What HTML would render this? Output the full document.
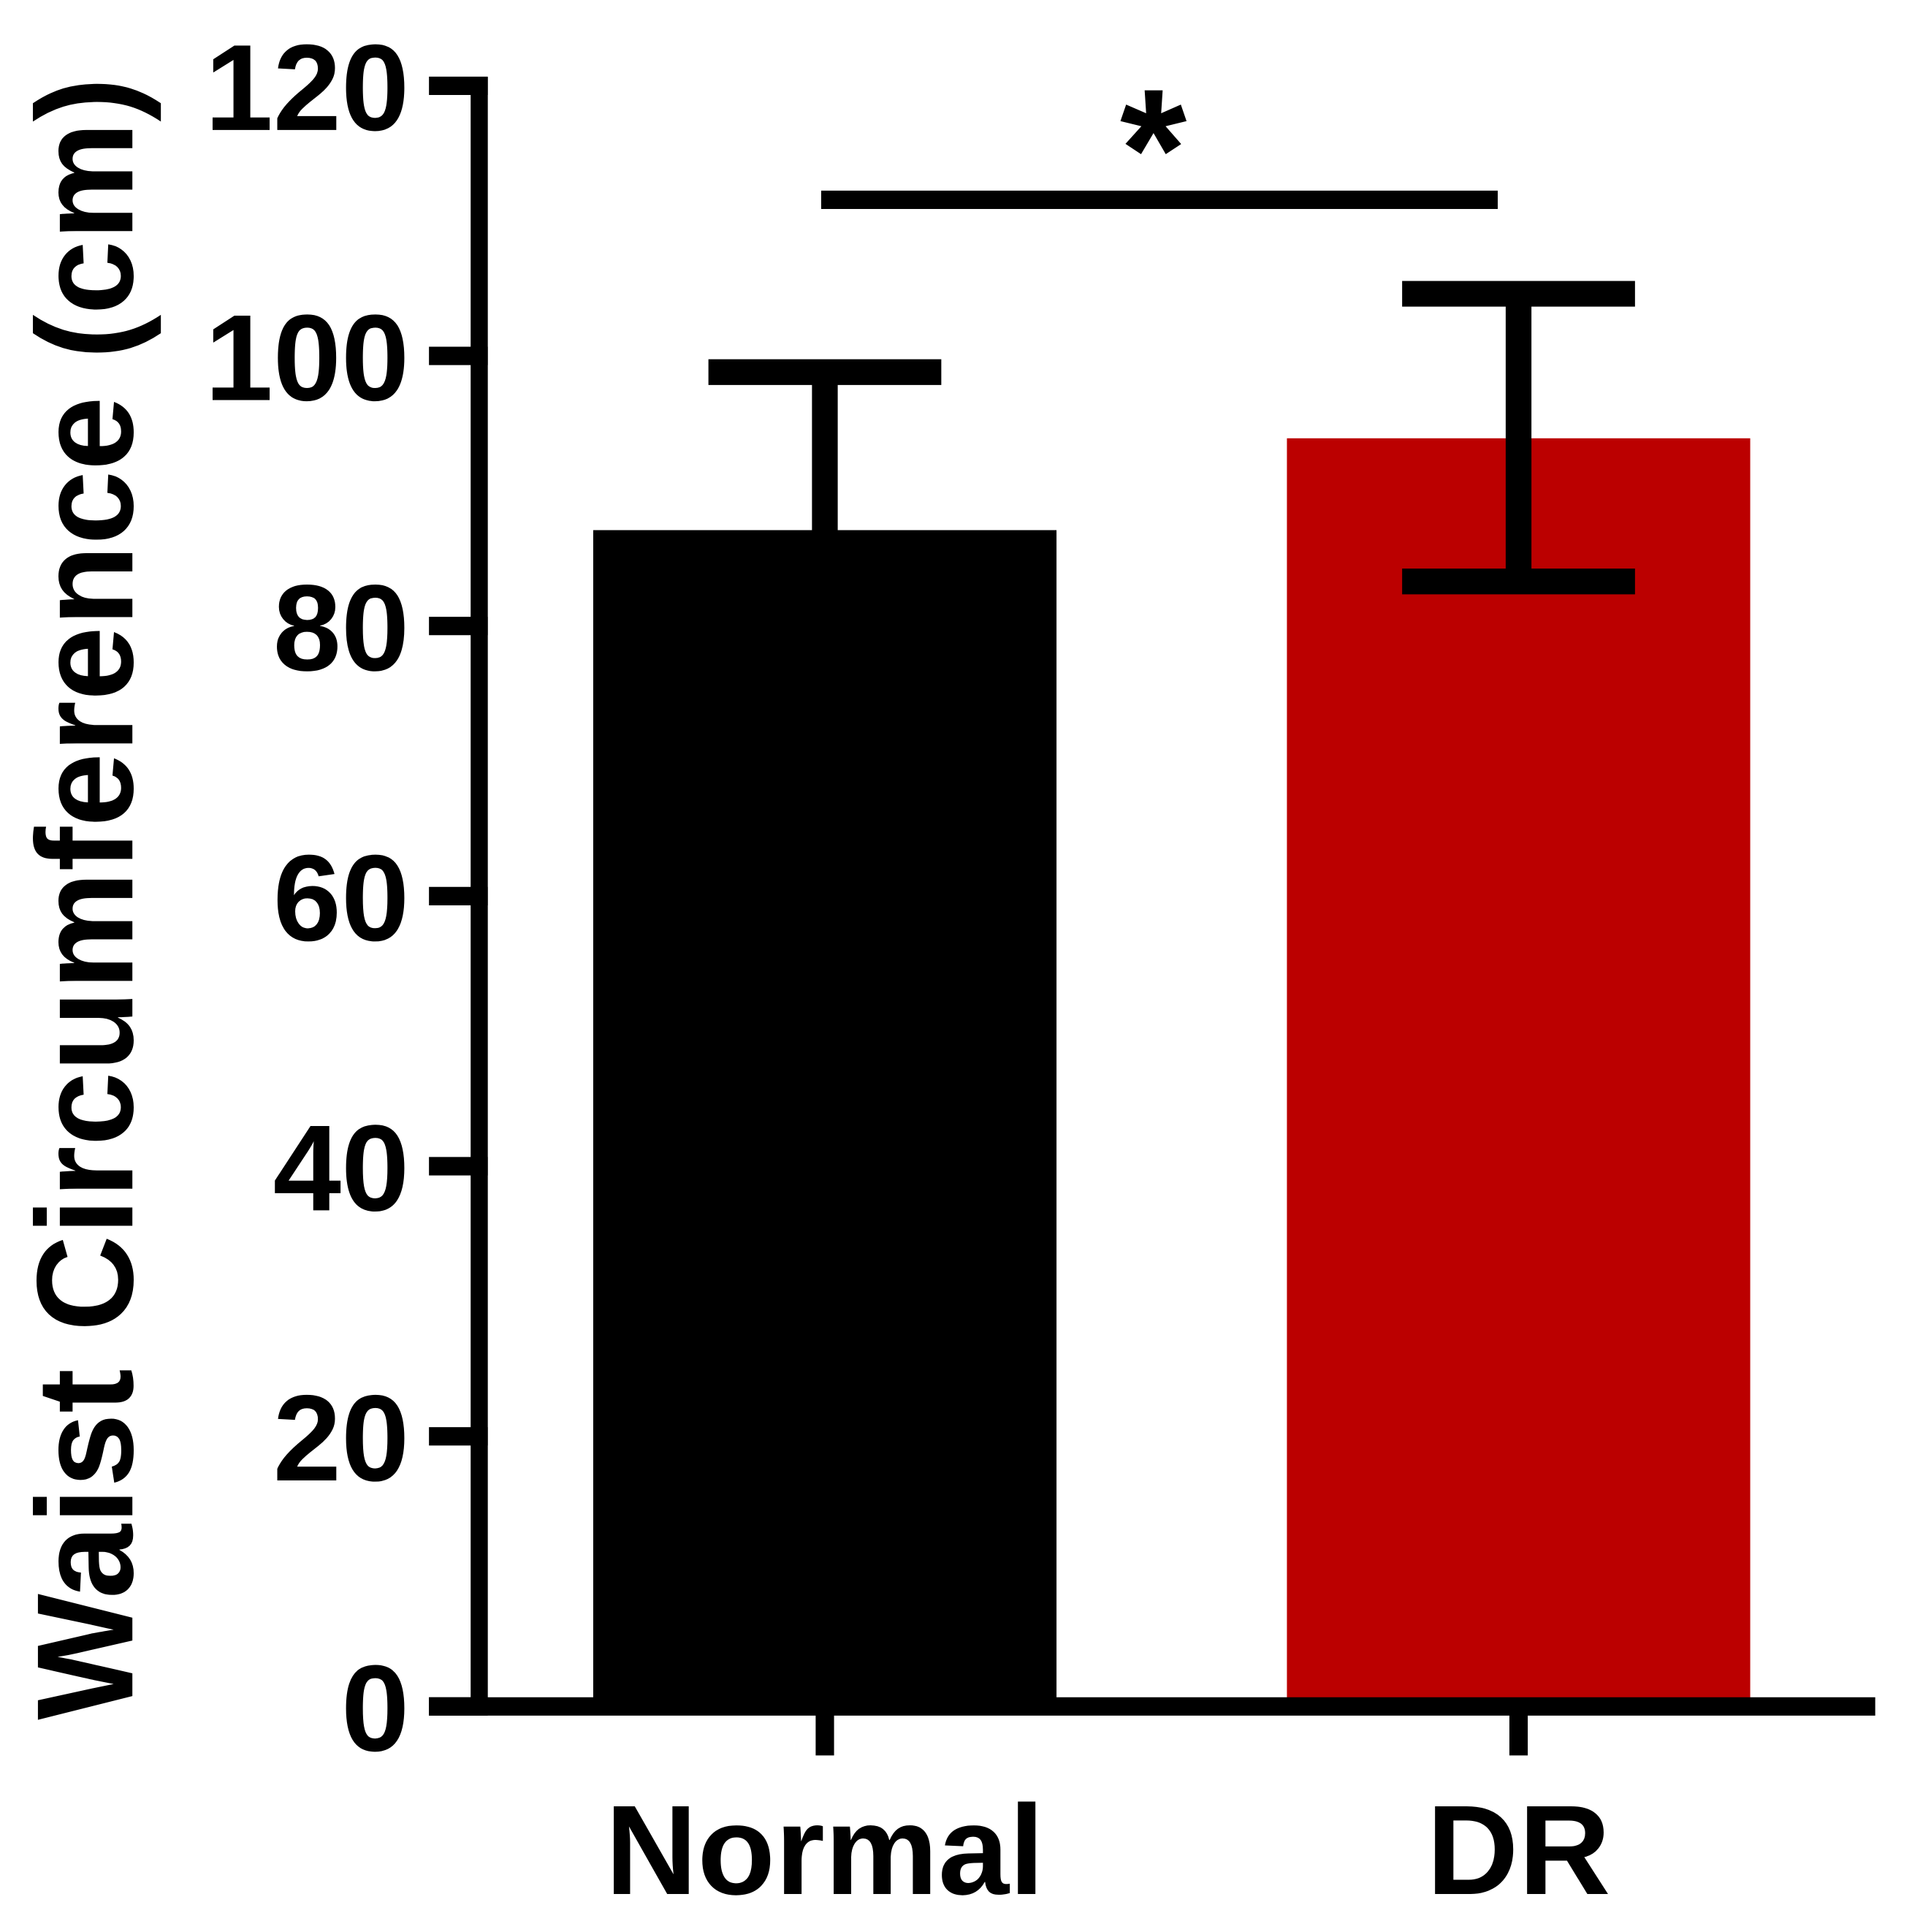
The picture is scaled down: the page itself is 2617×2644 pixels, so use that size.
<!DOCTYPE html>
<html><head><meta charset="utf-8"><style>
html,body{margin:0;padding:0;background:#fff;}
svg{display:block;}
text{font-family:"Liberation Sans",Arial,sans-serif;font-weight:bold;fill:#000;}
</style></head><body>
<svg id="chart" width="2617" height="2644" viewBox="0 0 1560 1576" preserveAspectRatio="none" xmlns="http://www.w3.org/2000/svg">
<g id="bars"></g>
<g id="axes"></g>
<text x="0" y="0" font-size="112" text-anchor="middle" transform="translate(108,733) rotate(-90)" textLength="1340" lengthAdjust="spacingAndGlyphs">Waist Circumference (cm)</text>
<line x1="670" y1="163" x2="1222" y2="163" stroke="#000" stroke-width="15"/>
<text x="941" y="170" font-size="140" text-anchor="middle">*</text>
</svg>
<script>
const categories = ["Normal", "DR"];
const means = [87.1, 93.9];
const errUpper = [98.8, 104.6];
const errLower = [null, 83.3];
const colors = ["#000000", "#bb0000"];
const yTicks = [0, 20, 40, 60, 80, 100, 120];
const yTickLabels = ["0", "20", "40", "60", "80", "100", "120"];

const NS = "http://www.w3.org/2000/svg";
const y0 = 1392, yMaxPx = 70, yMax = 120;
function yScale(v){ return y0 - (v / yMax) * (y0 - yMaxPx); }
const catCenters = [673, 1239];
function xScale(i){ return catCenters[i]; }
const barW = 378, capW = 190;

function mk(tag, attrs, parent){
  const el = document.createElementNS(NS, tag);
  for (const k in attrs) el.setAttribute(k, attrs[k]);
  parent.appendChild(el);
  return el;
}
const bars = document.getElementById('bars');
const axes = document.getElementById('axes');

categories.forEach((c, i) => {
  const cx = xScale(i);
  const top = yScale(means[i]);
  const r = mk('rect', {x: cx - barW/2, y: top, width: barW, height: y0 - top, fill: colors[i]}, bars);
  
  
  const lo = errLower[i] == null ? means[i] : errLower[i];
  const stem = mk('line', {x1: cx, x2: cx, y1: yScale(errUpper[i]), y2: yScale(lo), stroke: '#000', 'stroke-width': 21}, bars);
  
  
  const cap = mk('line', {x1: cx - capW/2, x2: cx + capW/2, y1: yScale(errUpper[i]), y2: yScale(errUpper[i]), stroke: '#000', 'stroke-width': 21}, bars);
  
  
  if (errLower[i] != null) {
    const cap2 = mk('line', {x1: cx - capW/2, x2: cx + capW/2, y1: yScale(errLower[i]), y2: yScale(errLower[i]), stroke: '#000', 'stroke-width': 21}, bars);
    
    
  }
  const xt = mk('line', {x1: cx, x2: cx, y1: y0, y2: 1432, stroke: '#000', 'stroke-width': 15}, axes);
  
  
  const lab = mk('text', {x: cx, y: 1545, 'font-size': 104, 'text-anchor': 'middle'}, axes);
  lab.textContent = c;
  
  
});

const yAxis = mk('line', {x1: 391, x2: 391, y1: yScale(yMax) - 7, y2: y0, stroke: '#000', 'stroke-width': 14}, axes);


const xAxis = mk('line', {x1: 350, x2: 1530, y1: y0, y2: y0, stroke: '#000', 'stroke-width': 15}, axes);



yTicks.forEach((v, i) => {
  const y = yScale(v);
  const t = mk('line', {x1: 350, x2: 398, y1: y, y2: y, stroke: '#000', 'stroke-width': 15}, axes);
  
  
  const l = mk('text', {x: 334, y: y + 36, 'font-size': 100, 'text-anchor': 'end'}, axes);
  l.textContent = yTickLabels[i];
  
  
});
</script>
</body></html>
